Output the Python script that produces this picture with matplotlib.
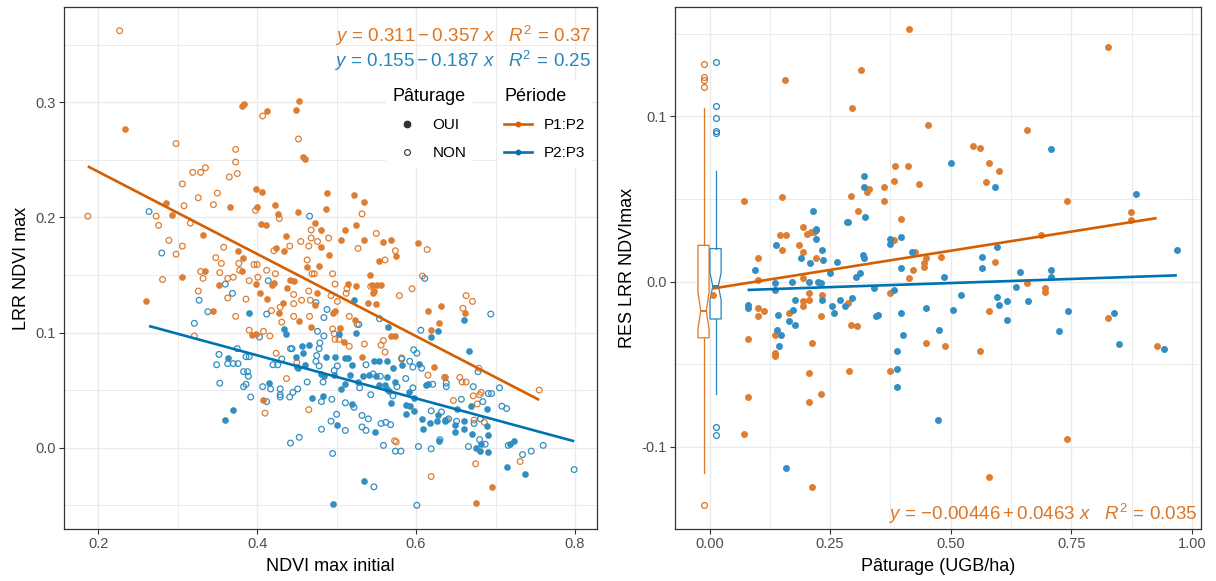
import matplotlib
matplotlib.use("Agg")
import matplotlib.pyplot as plt
from matplotlib.lines import Line2D
from matplotlib.ticker import FixedLocator

plt.rcParams['font.family'] = ['Liberation Sans', 'DejaVu Sans']
plt.rcParams['mathtext.fontset'] = 'custom'
plt.rcParams['mathtext.rm'] = 'Liberation Sans'
plt.rcParams['mathtext.it'] = 'Liberation Sans:italic'
plt.rcParams['axes.unicode_minus'] = False

ORANGE = '#D55E00'
BLUE = '#0072B2'

# ---------------- Left panel data : NDVI max initial vs LRR NDVI max ----------------
# P1:P2, pâturage OUI (filled orange)
p12_oui_x = [0.234, 0.381, 0.384, 0.413, 0.453, 0.449, 0.458, 0.460, 0.366, 0.398, 0.406, 0.400,
             0.422, 0.426, 0.452, 0.488, 0.473, 0.481, 0.481, 0.436, 0.424, 0.434, 0.405, 0.411,
             0.463, 0.478, 0.285, 0.293, 0.332, 0.376, 0.382,
             0.487, 0.522, 0.534, 0.525, 0.511, 0.506, 0.534, 0.490, 0.558, 0.569, 0.554, 0.575, 0.603,
             0.305, 0.260, 0.345, 0.335, 0.352, 0.381, 0.394, 0.399, 0.399, 0.404, 0.419, 0.421,
             0.412, 0.428, 0.432, 0.437, 0.442, 0.446, 0.453, 0.468, 0.473, 0.475, 0.408,
             0.542, 0.514, 0.525, 0.545, 0.551, 0.556, 0.546, 0.547, 0.539, 0.550, 0.631, 0.615,
             0.661, 0.498, 0.495, 0.523, 0.629, 0.619, 0.504, 0.509, 0.568, 0.573, 0.532, 0.623,
             0.637, 0.695, 0.676]
p12_oui_y = [0.277, 0.297, 0.298, 0.292, 0.301, 0.293, 0.252, 0.251, 0.209, 0.225, 0.222, 0.209,
             0.211, 0.203, 0.205, 0.221, 0.195, 0.189, 0.174, 0.184, 0.173, 0.171, 0.194, 0.193,
             0.157, 0.158, 0.212, 0.202, 0.185, 0.171, 0.165,
             0.207, 0.219, 0.213, 0.193, 0.189, 0.180, 0.180, 0.167, 0.179, 0.180, 0.162, 0.166, 0.178,
             0.148, 0.127, 0.119, 0.153, 0.141, 0.153, 0.098, 0.099, 0.142, 0.134, 0.141, 0.143,
             0.129, 0.117, 0.126, 0.139, 0.146, 0.145, 0.110, 0.105, 0.124, 0.134, 0.041,
             0.150, 0.142, 0.140, 0.141, 0.141, 0.141, 0.134, 0.136, 0.126, 0.125, 0.123, 0.119,
             0.117, 0.119, 0.117, 0.111, 0.108, 0.102, 0.104, 0.092, 0.097, 0.097, 0.079, 0.070,
             0.061, -0.034, -0.048]

# P1:P2, pâturage NON (open orange)
p12_non_x = [0.227, 0.187, 0.298, 0.407, 0.452, 0.373, 0.373, 0.365, 0.375, 0.319, 0.329, 0.335,
             0.306, 0.350, 0.326, 0.308, 0.345, 0.398, 0.428, 0.468, 0.468, 0.476, 0.465, 0.455,
             0.441, 0.421, 0.463, 0.273, 0.276, 0.316, 0.289, 0.306, 0.298, 0.358, 0.348, 0.355,
             0.377, 0.396, 0.400,
             0.532, 0.490, 0.550, 0.527, 0.574, 0.561, 0.614,
             0.281, 0.326, 0.321, 0.329, 0.332, 0.353, 0.363, 0.370, 0.378, 0.363, 0.390, 0.386,
             0.373, 0.390, 0.408, 0.416, 0.401, 0.412, 0.423, 0.418, 0.429, 0.431, 0.446, 0.446,
             0.456, 0.446, 0.466, 0.467, 0.469, 0.472, 0.465, 0.424, 0.450, 0.437, 0.410, 0.465,
             0.495, 0.608, 0.498, 0.513, 0.512, 0.543, 0.595, 0.579, 0.493, 0.501, 0.663, 0.671,
             0.659, 0.516, 0.526, 0.495, 0.497, 0.503, 0.498, 0.516, 0.535, 0.556, 0.559, 0.561,
             0.582, 0.615, 0.679, 0.636, 0.655, 0.658, 0.663, 0.672, 0.680, 0.682, 0.647, 0.677,
             0.673, 0.686, 0.573, 0.575, 0.731, 0.675, 0.619, 0.639, 0.755]
p12_non_y = [0.362, 0.201, 0.264, 0.288, 0.268, 0.259, 0.248, 0.235, 0.238, 0.239, 0.239, 0.243,
             0.229, 0.221, 0.217, 0.210, 0.211, 0.206, 0.199, 0.189, 0.182, 0.179, 0.175, 0.179,
             0.175, 0.171, 0.163, 0.201, 0.193, 0.195, 0.180, 0.175, 0.168, 0.174, 0.165, 0.160,
             0.160, 0.159, 0.159,
             0.203, 0.182, 0.186, 0.173, 0.171, 0.163, 0.172,
             0.146, 0.136, 0.097, 0.153, 0.147, 0.152, 0.147, 0.148, 0.154, 0.130, 0.145, 0.129,
             0.114, 0.102, 0.101, 0.097, 0.148, 0.154, 0.151, 0.119, 0.122, 0.109, 0.133, 0.125,
             0.128, 0.114, 0.114, 0.128, 0.151, 0.151, 0.136, 0.082, 0.074, 0.060, 0.030, 0.033,
             0.151, 0.149, 0.142, 0.138, 0.134, 0.140, 0.138, 0.132, 0.132, 0.127, 0.132, 0.127,
             0.121, 0.114, 0.107, 0.103, 0.099, 0.094, 0.094, 0.088, 0.090, 0.089, 0.093, 0.083,
             0.078, 0.063, 0.069, 0.061, 0.061, 0.057, 0.057, 0.045, 0.046, 0.048, 0.041, 0.038,
             0.024, 0.022, 0.006, 0.005, -0.012, -0.014, -0.025, 0.024, 0.050]

# P2:P3, pâturage OUI (filled blue)
p23_oui_x = [0.390, 0.434, 0.436, 0.456, 0.465, 0.449, 0.458, 0.450, 0.452, 0.460, 0.480, 0.415,
             0.469, 0.483, 0.363, 0.370, 0.360,
             0.522, 0.660, 0.565, 0.628, 0.619, 0.524, 0.503, 0.667, 0.487, 0.498, 0.510, 0.514,
             0.547, 0.554, 0.563, 0.520, 0.571, 0.582, 0.604, 0.484, 0.497, 0.517, 0.533, 0.541,
             0.550, 0.564, 0.573, 0.510, 0.506, 0.527, 0.553, 0.561, 0.563, 0.566, 0.569, 0.587,
             0.591, 0.598, 0.587, 0.598, 0.612, 0.615, 0.593, 0.669, 0.689, 0.652, 0.520, 0.500,
             0.548, 0.608, 0.617, 0.626, 0.628, 0.636, 0.637, 0.609, 0.649, 0.649, 0.660, 0.660,
             0.670, 0.689, 0.691, 0.682, 0.675, 0.681, 0.691, 0.723, 0.718, 0.629, 0.715, 0.737,
             0.535, 0.495]
p23_oui_y = [0.117, 0.103, 0.099, 0.088, 0.089, 0.079, 0.082, 0.070, 0.069, 0.072, 0.064, 0.056,
             0.043, 0.045, 0.078, 0.033, 0.024,
             0.128, 0.111, 0.105, 0.101, 0.096, 0.100, 0.099, 0.084, 0.079, 0.079, 0.078, 0.078,
             0.075, 0.075, 0.075, 0.072, 0.069, 0.072, 0.073, 0.062, 0.063, 0.063, 0.062, 0.063,
             0.062, 0.061, 0.057, 0.055, 0.051, 0.057, 0.054, 0.054, 0.051, 0.049, 0.039, 0.037,
             0.048, 0.043, 0.029, 0.032, 0.054, 0.055, 0.036, 0.036, 0.034, 0.034, 0.038, 0.020,
             0.014, 0.025, 0.021, 0.023, 0.028, 0.023, 0.024, 0.016, 0.020, 0.014, 0.016, 0.023,
             0.012, 0.019, 0.011, 0.003, 0.000, -0.003, -0.004, 0.006, 0.003, 0.006, -0.017, -0.023,
             -0.029, -0.049]

# P2:P3, pâturage NON (open blue)
p23_non_x = [0.466, 0.264, 0.280,
             0.327, 0.338, 0.321, 0.360, 0.369, 0.403, 0.414, 0.412, 0.474, 0.476, 0.479, 0.478,
             0.484, 0.442, 0.444, 0.431, 0.420, 0.426, 0.474, 0.478, 0.475, 0.463, 0.483, 0.407,
             0.417, 0.429, 0.451, 0.445, 0.441, 0.429, 0.429, 0.481, 0.412, 0.352, 0.349, 0.370,
             0.376, 0.363, 0.375, 0.386, 0.390, 0.383, 0.388, 0.389, 0.386, 0.383, 0.392, 0.353,
             0.442, 0.453, 0.481,
             0.611, 0.694, 0.488, 0.484, 0.528, 0.554, 0.606, 0.597, 0.601, 0.537, 0.501, 0.582,
             0.592, 0.596, 0.607, 0.678, 0.497, 0.546, 0.555, 0.587, 0.529, 0.543, 0.576, 0.596,
             0.571, 0.621, 0.638, 0.638, 0.657, 0.672, 0.691, 0.695, 0.705, 0.684, 0.708, 0.714,
             0.494, 0.500, 0.493, 0.511, 0.511, 0.522, 0.532, 0.540, 0.532, 0.537, 0.556, 0.562,
             0.568, 0.619, 0.632, 0.641, 0.651, 0.673, 0.681, 0.666, 0.680, 0.687, 0.716, 0.734,
             0.745, 0.760, 0.495, 0.619, 0.630, 0.603, 0.581, 0.574, 0.559, 0.799, 0.547, 0.601]
p23_non_y = [0.201, 0.205, 0.169,
             0.128, 0.118, 0.108, 0.142, 0.134, 0.096, 0.145, 0.116, 0.126, 0.101, 0.091, 0.086,
             0.097, 0.086, 0.086, 0.077, 0.072, 0.072, 0.075, 0.071, 0.080, 0.057, 0.057, 0.053,
             0.051, 0.051, 0.051, 0.048, 0.044, 0.044, 0.046, 0.040, 0.040, 0.081, 0.072, 0.073,
             0.073, 0.073, 0.086, 0.079, 0.079, 0.066, 0.066, 0.062, 0.055, 0.053, 0.044, 0.056,
             0.004, 0.009, 0.016,
             0.147, 0.116, 0.120, 0.113, 0.107, 0.112, 0.102, 0.085, 0.082, 0.072, 0.071, 0.077,
             0.075, 0.070, 0.069, 0.066, 0.067, 0.064, 0.062, 0.060, 0.052, 0.046, 0.053, 0.052,
             0.045, 0.055, 0.056, 0.053, 0.042, 0.053, 0.047, 0.047, 0.052, 0.040, 0.036, 0.034,
             0.042, 0.029, 0.023, 0.015, 0.039, 0.035, 0.028, 0.025, 0.018, 0.015, 0.021, 0.022,
             0.020, 0.032, 0.031, 0.025, 0.023, 0.021, 0.025, 0.001, 0.007, 0.003, 0.002, -0.006,
             -0.003, 0.002, -0.005, -0.001, 0.007, 0.001, -0.003, -0.003, 0.002, -0.019, -0.034, -0.050]

# Left panel regression fits (from the displayed equations) and their x ranges
fit_left = {'P1:P2': (0.311, -0.357, 0.37, 0.187, 0.755),
            'P2:P3': (0.155, -0.187, 0.25, 0.264, 0.799)}

# ---------------- Right panel data : Pâturage (UGB/ha) vs RES LRR NDVImax ----------------
r12_x = [0.414, 0.315, 0.156, 0.296, 0.453, 0.385, 0.411, 0.382, 0.435, 0.331, 0.326, 0.361,
         0.294, 0.361, 0.071, 0.150, 0.307, 0.398, 0.193, 0.202, 0.211, 0.216, 0.146, 0.159,
         0.382, 0.185, 0.150, 0.193, 0.425, 0.449, 0.480, 0.100, 0.220, 0.444,
         0.100, 0.193, 0.414, 0.421, 0.444, 0.375, 0.206, 0.233, 0.193, 0.207, 0.193, 0.287,
         0.100, 0.112, 0.100, 0.164, 0.231, 0.294, 0.305, 0.135, 0.079, 0.449, 0.489, 0.212,
         0.135, 0.135, 0.135, 0.206, 0.289, 0.374, 0.079, 0.231, 0.206, 0.071, 0.212,
         0.826, 0.659, 0.546, 0.560, 0.579, 0.600, 0.574, 0.741, 0.874, 0.874, 0.688, 0.592,
         0.659, 0.696, 0.696, 0.579, 0.826, 0.560, 0.927, 0.741, 0.579, 0.007]
r12_y = [0.153, 0.128, 0.122, 0.105, 0.095, 0.070, 0.070, 0.061, 0.059, 0.056, 0.054, 0.057,
         0.052, 0.049, 0.049, 0.051, 0.043, 0.038, 0.033, 0.029, 0.030, 0.030, 0.028, 0.028,
         0.025, 0.022, 0.019, 0.018, 0.018, 0.014, 0.015, 0.014, 0.014, 0.011,
         0.001, 0.002, 0.002, 0.007, 0.009, -0.007, -0.007, -0.008, -0.012, -0.011, -0.015, -0.013,
         -0.016, -0.018, -0.021, -0.019, -0.021, -0.026, -0.027, -0.032, -0.035, -0.037, -0.039, -0.037,
         -0.043, -0.044, -0.045, -0.055, -0.054, -0.054, -0.070, -0.068, -0.073, -0.092, -0.124,
         0.142, 0.092, 0.082, 0.081, 0.072, 0.067, 0.060, 0.049, 0.042, 0.037, 0.028, 0.012,
         -0.001, -0.004, -0.006, -0.018, -0.022, -0.042, -0.039, -0.095, -0.118, -0.008]

r23_x = [0.500, 0.321, 0.321, 0.215, 0.323, 0.284, 0.287, 0.220, 0.220, 0.220, 0.374, 0.374,
         0.398, 0.137, 0.233, 0.419, 0.318, 0.321, 0.189, 0.236, 0.265, 0.209,
         0.095, 0.135, 0.135, 0.172, 0.206, 0.225, 0.231, 0.249, 0.303, 0.311, 0.342, 0.383,
         0.398, 0.486, 0.522, 0.177, 0.233, 0.270, 0.295, 0.254, 0.281, 0.258, 0.079, 0.079,
         0.173, 0.142, 0.164, 0.177, 0.345, 0.350, 0.398, 0.449, 0.504, 0.140, 0.148, 0.143,
         0.401, 0.475, 0.388, 0.388, 0.388, 0.473, 0.158,
         0.709, 0.592, 0.885, 0.595, 0.969, 0.565, 0.565, 0.643, 0.709, 0.709, 0.635, 0.595,
         0.601, 0.617, 0.617, 0.661, 0.743, 0.725, 0.839, 0.848, 0.943]
r23_y = [0.072, 0.064, 0.057, 0.043, 0.039, 0.036, 0.036, 0.032, 0.031, 0.026, 0.026, 0.023,
         0.027, 0.022, 0.019, 0.018, 0.016, 0.014, 0.014, 0.013, 0.012, 0.011,
         0.007, -0.001, -0.005, 0.000, 0.000, 0.000, -0.001, 0.005, 0.003, 0.005, -0.004, -0.005,
         0.008, 0.003, -0.008, -0.011, -0.011, -0.011, -0.010, -0.015, -0.015, -0.019, -0.014, -0.016,
         -0.017, -0.020, -0.024, -0.026, -0.021, -0.020, -0.019, -0.016, -0.017, -0.029, -0.032, -0.039,
         -0.032, -0.029, -0.042, -0.053, -0.064, -0.084, -0.113,
         0.080, 0.057, 0.053, 0.021, 0.019, 0.015, 0.008, 0.006, 0.007, 0.003, -0.003, -0.009,
         -0.014, -0.012, -0.023, -0.012, -0.018, -0.030, -0.019, -0.038, -0.041]

# Boxplots of the ungrazed plots (pâturage = 0): quartiles, notches, whiskers, outliers
box_stats = {
    'P1:P2': dict(q1=-0.034, med=-0.0176, q3=0.022, cilo=-0.0287, cihi=-0.0065,
                  whislo=-0.116, whishi=0.105,
                  fliers=[0.132, 0.124, 0.122, 0.118, -0.135]),
    'P2:P3': dict(q1=-0.0226, med=-0.0028, q3=0.020, cilo=-0.0109, cihi=0.0053,
                  whislo=-0.068, whishi=0.067,
                  fliers=[0.133, 0.1065, 0.099, 0.091, 0.0897, -0.088, -0.093]),
}
box_pos = {'P1:P2': -0.0125, 'P2:P3': 0.0125}

# Right panel regression fits (intercept, slope, x range)
fit_right = {'P1:P2': (-0.00446, 0.0463, 0.007, 0.927),
             'P2:P3': (-0.0058, 0.0099, 0.079, 0.969)}
r2_right = 0.035

# ---------------- Figure ----------------
W, H = 1216, 581
fig = plt.figure(figsize=(W / 100, H / 100), dpi=100)
ax1 = fig.add_axes([64 / W, (H - 529) / H, 533 / W, 522 / H])
ax2 = fig.add_axes([675 / W, (H - 529) / H, 526 / W, 522 / H])


def style(ax):
    ax.set_facecolor('white')
    for s in ax.spines.values():
        s.set_color('#333333')
        s.set_linewidth(0.9)
    ax.grid(which='major', color='#EBEBEB', lw=1.0)
    ax.grid(which='minor', color='#EBEBEB', lw=0.7)
    ax.set_axisbelow(True)
    ax.tick_params(which='major', length=3.5, width=0.8, color='#333333',
                   labelsize=10.5, labelcolor='#4D4D4D', pad=2.5)
    ax.tick_params(which='minor', length=0)


def ocol(c, a=0.8):
    import matplotlib.colors as mc
    r, g, b = mc.to_rgb(c)
    return (r * a + (1 - a), g * a + (1 - a), b * a + (1 - a))


def fmt(v, nd):
    s = ('%.' + str(nd) + 'f') % abs(v)
    return ('{-}' + s) if v < 0 else s


# Left panel
style(ax1)
ax1.scatter(p12_non_x, p12_non_y, s=17, facecolors='none', edgecolors=ocol(ORANGE), linewidths=0.9, zorder=3)
ax1.scatter(p23_non_x, p23_non_y, s=17, facecolors='none', edgecolors=ocol(BLUE), linewidths=0.9, zorder=3)
ax1.scatter(p12_oui_x, p12_oui_y, s=23, color=ocol(ORANGE), linewidths=0, zorder=3)
ax1.scatter(p23_oui_x, p23_oui_y, s=23, color=ocol(BLUE), linewidths=0, zorder=3)
for key, col in (('P1:P2', ORANGE), ('P2:P3', BLUE)):
    a, b, r2, x0, x1 = fit_left[key]
    ax1.plot([x0, x1], [a + b * x0, a + b * x1], color=col, lw=1.9, zorder=4, solid_capstyle='butt')

ax1.set_xlim(0.157, 0.8277)
ax1.set_ylim(-0.0706, 0.3826)
ax1.xaxis.set_major_locator(FixedLocator([0.2, 0.4, 0.6, 0.8]))
ax1.xaxis.set_minor_locator(FixedLocator([0.3, 0.5, 0.7]))
ax1.yaxis.set_major_locator(FixedLocator([0.0, 0.1, 0.2, 0.3]))
ax1.yaxis.set_minor_locator(FixedLocator([-0.05, 0.05, 0.15, 0.25, 0.35]))
ax1.set_xticklabels(['0.2', '0.4', '0.6', '0.8'])
ax1.set_yticklabels(['0.0', '0.1', '0.2', '0.3'])
ax1.set_xlabel('NDVI max initial', fontsize=13, labelpad=5)
ax1.set_ylabel('LRR NDVI max', fontsize=13, labelpad=4)

EQ = r"$y\,=\,%s - %s\ x\quad R^2\,=\,%s$"
a, b, r2, _, _ = fit_left['P1:P2']
ax1.text(0.989, 0.9335, EQ % (fmt(a, 3), fmt(-b, 3), '%.2f' % r2),
         transform=ax1.transAxes, ha='right', va='baseline', fontsize=13.5, color=ocol(ORANGE, 0.85), zorder=6)
a, b, r2, _, _ = fit_left['P2:P3']
ax1.text(0.989, 0.8856, EQ % (fmt(a, 3), fmt(-b, 3), '%.2f' % r2),
         transform=ax1.transAxes, ha='right', va='baseline', fontsize=13.5, color=ocol(BLUE, 0.85), zorder=6)

h_oui = Line2D([], [], ls='', marker='o', markersize=4.6, markerfacecolor='#333333', markeredgecolor='#333333')
h_non = Line2D([], [], ls='', marker='o', markersize=4.2, markerfacecolor='white', markeredgecolor='#333333',
               markeredgewidth=0.8)
leg_kw = dict(loc='upper left', frameon=True, fancybox=False, edgecolor='none', facecolor='white',
              framealpha=1, fontsize=11, title_fontsize=13, alignment='left', handlelength=1.8,
              handletextpad=0.8, labelspacing=0.88, borderpad=0.45, borderaxespad=0)
leg1 = ax1.legend([h_oui, h_non], ['OUI', 'NON'], title='Pâturage',
                  bbox_to_anchor=(0.604, 0.858), **leg_kw)
leg1.set_zorder(10)
ax1.add_artist(leg1)
h_12 = Line2D([], [], color=ORANGE, lw=1.9, marker='o', markersize=3.2)
h_23 = Line2D([], [], color=BLUE, lw=1.9, marker='o', markersize=3.2)
leg2 = ax1.legend([h_12, h_23], ['P1:P2', 'P2:P3'], title='Période',
                  bbox_to_anchor=(0.813, 0.858), **leg_kw)
leg2.set_zorder(10)

# Right panel
style(ax2)
for key, col in (('P1:P2', ORANGE), ('P2:P3', BLUE)):
    c = ocol(col, 0.85)
    st = dict(box_stats[key], label=key)
    ax2.bxp([st], positions=[box_pos[key]], widths=0.023, shownotches=True, patch_artist=True,
            manage_ticks=False,
            boxprops=dict(facecolor='white', edgecolor=c, lw=0.9),
            medianprops=dict(color=c, lw=1.4),
            whiskerprops=dict(color=c, lw=0.9), capprops=dict(lw=0),
            flierprops=dict(marker='o', markersize=4.2, markerfacecolor='none', markeredgecolor=c,
                            markeredgewidth=0.9),
            zorder=2)
ax2.scatter(r12_x, r12_y, s=25, color=ocol(ORANGE), linewidths=0, zorder=3)
ax2.scatter(r23_x, r23_y, s=25, color=ocol(BLUE), linewidths=0, zorder=3)
for key, col in (('P1:P2', ORANGE), ('P2:P3', BLUE)):
    a, b, x0, x1 = fit_right[key]
    ax2.plot([x0, x1], [a + b * x0, a + b * x1], color=col, lw=1.9, zorder=4, solid_capstyle='butt')

ax2.set_xlim(-0.0716, 1.019)
ax2.set_ylim(-0.1497, 0.1662)
ax2.xaxis.set_major_locator(FixedLocator([0.0, 0.25, 0.5, 0.75, 1.0]))
ax2.xaxis.set_minor_locator(FixedLocator([0.125, 0.375, 0.625, 0.875]))
ax2.yaxis.set_major_locator(FixedLocator([-0.1, 0.0, 0.1]))
ax2.yaxis.set_minor_locator(FixedLocator([-0.05, 0.05, 0.15]))
ax2.set_xticklabels(['0.00', '0.25', '0.50', '0.75', '1.00'])
ax2.set_yticklabels(['-0.1', '0.0', '0.1'])
ax2.set_xlabel('Pâturage (UGB/ha)', fontsize=13, labelpad=5)
ax2.set_ylabel('RES LRR NDVImax', fontsize=13, labelpad=4)

a, b, _, _ = fit_right['P1:P2']
ax2.text(0.994, 0.017, r"$y\,=\,%s + %s\ x\quad R^2\,=\,%s$" % (fmt(a, 5), fmt(b, 4), '%.3f' % r2_right),
         transform=ax2.transAxes, ha='right', va='baseline', fontsize=13.5, color=ocol(ORANGE, 0.85), zorder=6)

fig.savefig('out.png', dpi=100, facecolor='white')
